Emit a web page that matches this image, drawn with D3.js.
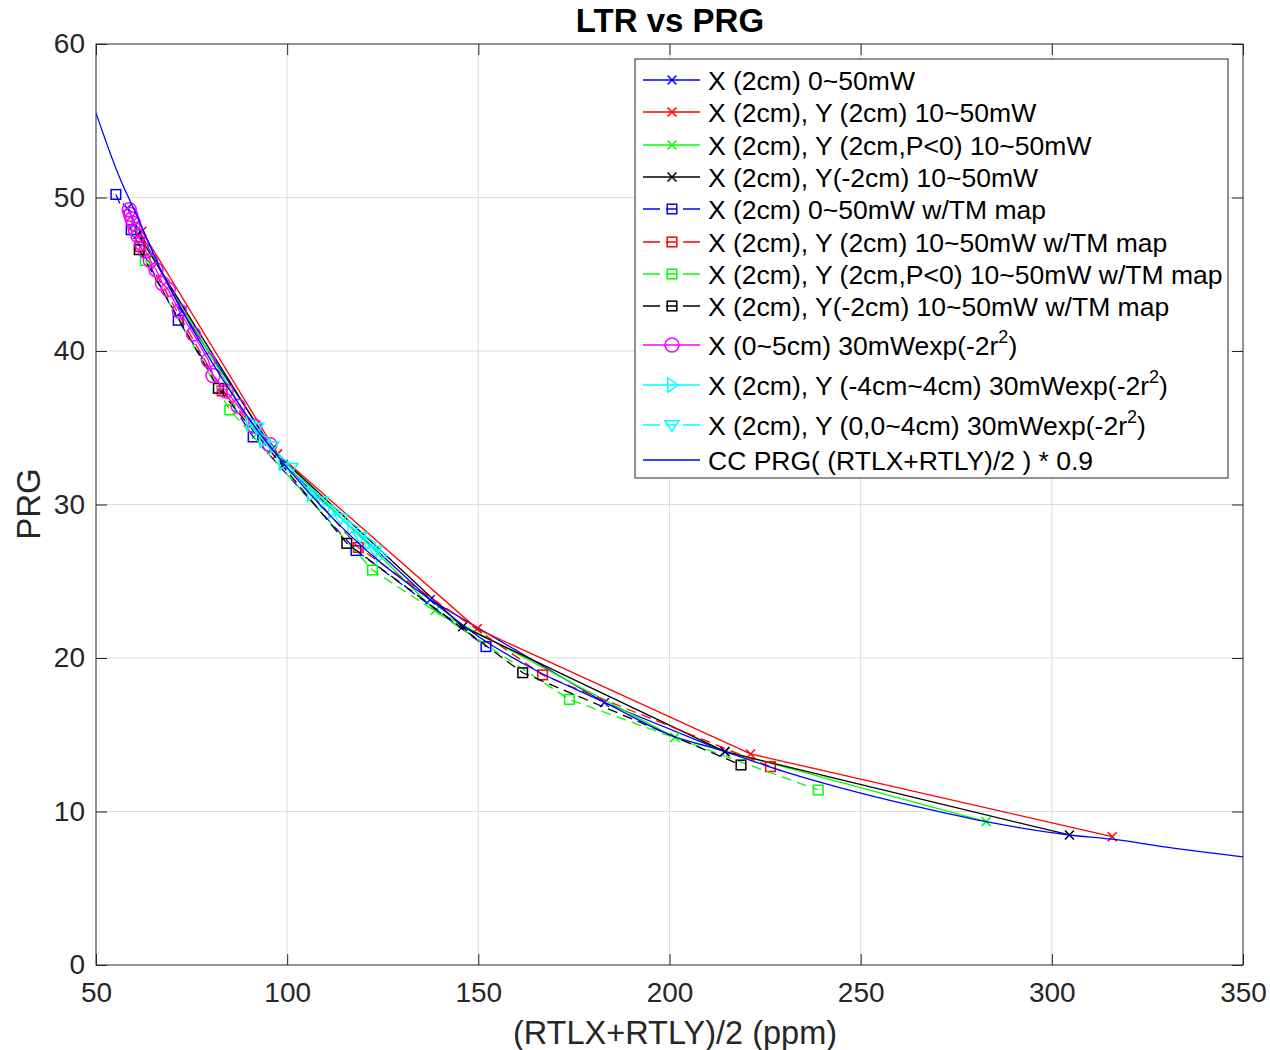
<!DOCTYPE html>
<html>
<head>
<meta charset="utf-8">
<script src="https://cdn.jsdelivr.net/npm/d3@7"></script>
<style>
  body { margin: 0; background: #fff; }
  text { font-family: "Liberation Sans", Arial, Helvetica, sans-serif; }
</style>
</head>
<body>
<svg id="chart" width="1270" height="1050"></svg>
<script>
// values
let xTicks = [50, 100, 150, 200, 250, 300, 350];
let yTicks = [0, 10, 20, 30, 40, 50, 60];

let xBlueX = [58.2, 72.5, 99, 137.4, 183, 214.5];
let yBlueX = [49.3, 42.6, 32.6, 23.8, 17.1, 13.9];
let xRedX = [62, 97.5, 149.7, 221.2, 315.8];
let yRedX = [47.8, 33.3, 21.9, 13.75, 8.36];
let xGreenX = [60, 92, 138.7, 201.4, 282.8];
let yGreenX = [48.2, 34.6, 23.1, 14.83, 9.34];
let xBlackX = [61, 96, 145.9, 214.5, 304.6];
let yBlackX = [47.6, 33.6, 22.04, 13.9, 8.47];

let xBlueSq = [55.2, 59.2, 71.5, 91.1, 118, 152];
let yBlueSq = [50.2, 47.9, 42.0, 34.4, 27.0, 20.74];
let xRedSq = [61.6, 83, 118.6, 166.8, 226.4];
let yRedSq = [46.8, 37.4, 27.2, 18.9, 12.92];
let xGreenSq = [62.9, 85, 122.3, 173.8, 238.9];
let yGreenSq = [45.9, 36.16, 25.73, 17.3, 11.4];
let xBlackSq = [61.3, 82, 115.6, 161.6, 218.7];
let yBlackSq = [46.6, 37.57, 27.47, 19.04, 13.03];

let xMagenta = [58.7, 59.0, 59.4, 59.8, 60.3, 61.0, 61.9, 63.0, 64.2, 65.7, 67.4, 68.9, 71.8, 75.5, 79.4, 80.6, 84.0, 87.2, 91.5, 95.5];
let yMagenta = [49.2, 48.9, 48.6, 48.3, 47.9, 47.5, 47.0, 46.5, 45.9, 45.3, 44.4, 44.0, 42.6, 41.1, 39.4, 38.4, 37.4, 36.4, 35.1, 33.9];
let xCyanR = [90.5, 94, 99, 106.5, 112, 117, 121.5, 124.5];
let yCyanR = [35.3, 34.2, 32.7, 30.7, 29.6, 28.5, 27.5, 26.7];
let xCyanV = [92, 96, 101, 109, 114, 119, 123];
let yCyanV = [35.0, 33.8, 32.4, 30.2, 29.1, 27.9, 27.0];

let xCC = [50, 56.5, 60, 67.4, 70, 80, 90, 100, 110, 125, 137.4, 150, 165, 183, 200, 214.5, 230, 250, 265, 282.8, 304.6, 315.8, 330, 350];
let yCC = [55.5, 51.1, 49.2, 45.06, 43.8, 39.4, 35.6, 32.4, 29.6, 26.1, 23.8, 21.4, 19.2, 17.1, 15.0, 13.9, 12.6, 11.2, 10.3, 9.34, 8.47, 8.2, 7.68, 7.04];

let legendLabels = [
  "X (2cm) 0~50mW",
  "X (2cm), Y (2cm) 10~50mW",
  "X (2cm), Y (2cm,P<0) 10~50mW",
  "X (2cm), Y(-2cm) 10~50mW",
  "X (2cm) 0~50mW w/TM map",
  "X (2cm), Y (2cm) 10~50mW w/TM map",
  "X (2cm), Y (2cm,P<0) 10~50mW w/TM map",
  "X (2cm), Y(-2cm) 10~50mW w/TM map",
  "X (0~5cm) 30mWexp(-2r^2)",
  "X (2cm), Y (-4cm~4cm) 30mWexp(-2r^2)",
  "X (2cm), Y (0,0~4cm) 30mWexp(-2r^2)",
  "CC PRG( (RTLX+RTLY)/2 ) * 0.9"
];

let series = [
  { x: xBlueX, y: yBlueX, color: "#0000ff", marker: "x", dash: null },
  { x: xRedX, y: yRedX, color: "#ff0000", marker: "x", dash: null },
  { x: xGreenX, y: yGreenX, color: "#00ff00", marker: "x", dash: null },
  { x: xBlackX, y: yBlackX, color: "#000000", marker: "x", dash: null },
  { x: xBlueSq, y: yBlueSq, color: "#0000ff", marker: "s", dash: "10,6" },
  { x: xRedSq, y: yRedSq, color: "#ff0000", marker: "s", dash: "10,6" },
  { x: xGreenSq, y: yGreenSq, color: "#00ff00", marker: "s", dash: "10,6" },
  { x: xBlackSq, y: yBlackSq, color: "#000000", marker: "s", dash: "10,6" },
  { x: xMagenta, y: yMagenta, color: "#ff00ff", marker: "o", dash: null },
  { x: xCyanR, y: yCyanR, color: "#00ffff", marker: ">", dash: null },
  { x: xCyanV, y: yCyanV, color: "#00ffff", marker: "v", dash: "10,6" },
  { x: xCC, y: yCC, color: "#0000ff", marker: null, dash: null, smooth: true }
];

let svg = d3.select("#chart");
let plotLeft = 96, plotRight = 1243, plotTop = 44, plotBottom = 965;

let x = d3.scaleLinear().domain([50, 350]).range([plotLeft, plotRight]);
let y = d3.scaleLinear().domain([0, 60]).range([plotBottom, plotTop]);

// grid
svg.append("g").selectAll("line").data(xTicks.slice(1, -1)).enter().append("line")
    .attr("x1", d => x(d)).attr("x2", d => x(d))
    .attr("y1", plotTop).attr("y2", plotBottom)
    .attr("stroke", "#dcdcdc").attr("stroke-width", 1);
svg.append("g").selectAll("line").data(yTicks.slice(1, -1)).enter().append("line")
    .attr("y1", d => y(d)).attr("y2", d => y(d))
    .attr("x1", plotLeft).attr("x2", plotRight)
    .attr("stroke", "#dcdcdc").attr("stroke-width", 1);

// axes, ticks inside like matlab
let tickLen = 11;
let xAxis = d3.axisBottom(x).tickValues(xTicks).tickSize(-tickLen).tickPadding(17);
let yAxis = d3.axisLeft(y).tickValues(yTicks).tickSize(-tickLen).tickPadding(11);
svg.append("g").attr("transform", `translate(0,${plotBottom})`).call(xAxis);
svg.append("g").attr("transform", `translate(${plotLeft},0)`).call(yAxis);
svg.append("g").attr("transform", `translate(0,${plotTop})`)
    .call(d3.axisTop(x).tickValues(xTicks).tickSize(-tickLen).tickFormat(""));
svg.append("g").attr("transform", `translate(${plotRight},0)`)
    .call(d3.axisRight(y).tickValues(yTicks).tickSize(-tickLen).tickFormat(""));
svg.selectAll(".domain").remove();
svg.selectAll(".tick line").attr("stroke", "#262626");
svg.selectAll(".tick text").attr("font-size", 28).attr("fill", "#262626")
    .style("font-family", "'Liberation Sans', Arial, sans-serif");
svg.append("rect").attr("x", plotLeft).attr("y", plotTop)
    .attr("width", plotRight - plotLeft).attr("height", plotBottom - plotTop)
    .attr("fill", "none").attr("stroke", "#262626").attr("stroke-width", 1);

// labels
svg.append("text").attr("x", 670).attr("y", 32).attr("text-anchor", "middle")
    .attr("font-size", 33).attr("font-weight", "bold").text("LTR vs PRG");
svg.append("text").attr("x", 675).attr("y", 1044).attr("text-anchor", "middle")
    .attr("font-size", 32.5).attr("fill", "#262626").text("(RTLX+RTLY)/2 (ppm)");
svg.append("text").attr("transform", "translate(40,504) rotate(-90)").attr("text-anchor", "middle")
    .attr("font-size", 33).attr("fill", "#262626").text("PRG");

// clipping
svg.append("clipPath").attr("id", "plotClip").append("rect")
    .attr("x", plotLeft).attr("y", plotTop).attr("width", plotRight - plotLeft).attr("height", plotBottom - plotTop);

function drawMarker(g, type, cx, cy, color) {
    if (type === "x") {
        let s = 4.5;
        g.append("path").attr("d", `M${cx - s},${cy - s}L${cx + s},${cy + s}M${cx - s},${cy + s}L${cx + s},${cy - s}`)
            .attr("stroke", color).attr("stroke-width", 1.5).attr("fill", "none");
    } else if (type === "s") {
        let s = 4.8;
        g.append("rect").attr("x", cx - s).attr("y", cy - s).attr("width", 2 * s).attr("height", 2 * s)
            .attr("stroke", color).attr("stroke-width", 1.5).attr("fill", "none");
    } else if (type === "o") {
        g.append("circle").attr("cx", cx).attr("cy", cy).attr("r", 7)
            .attr("stroke", color).attr("stroke-width", 1.5).attr("fill", "none");
    } else if (type === ">") {
        let s = 7;
        g.append("path").attr("d", `M${cx - s * 0.6},${cy - s}L${cx + s * 0.9},${cy}L${cx - s * 0.6},${cy + s}Z`)
            .attr("stroke", color).attr("stroke-width", 1.5).attr("fill", "none");
    } else if (type === "v") {
        let s = 7;
        g.append("path").attr("d", `M${cx - s},${cy - s * 0.6}L${cx + s},${cy - s * 0.6}L${cx},${cy + s * 0.9}Z`)
            .attr("stroke", color).attr("stroke-width", 1.5).attr("fill", "none");
    }
}

let plot = svg.append("g").attr("clip-path", "url(#plotClip)");
let line = d3.line().x(d => x(d[0])).y(d => y(d[1]));
let smoothLine = d3.line().x(d => x(d[0])).y(d => y(d[1])).curve(d3.curveMonotoneX);

series.forEach(s => {
    let pts = s.x.map((v, i) => [v, s.y[i]]);
    plot.append("path").attr("d", (s.smooth ? smoothLine : line)(pts))
        .attr("fill", "none").attr("stroke", s.color).attr("stroke-width", 1.3)
        .attr("stroke-dasharray", s.dash);
    if (s.marker) {
        pts.forEach(p => drawMarker(plot, s.marker, x(p[0]), y(p[1]), s.color));
    }
});

// legend
let legend = svg.append("g");
legend.append("rect").attr("x", 635).attr("y", 59).attr("width", 593).attr("height", 419)
    .attr("fill", "#fff").attr("stroke", "#262626").attr("stroke-width", 1);
let legendY = [80, 112, 145, 177, 209, 242, 274, 306, 345, 385, 425, 460];

series.forEach((s, i) => {
    let ly = legendY[i];
    legend.append("line").attr("x1", 643).attr("x2", 700).attr("y1", ly).attr("y2", ly)
        .attr("stroke", s.color).attr("stroke-width", 1.3)
        .attr("stroke-dasharray", s.dash ? "17,6,11,6,17" : null);
    if (s.marker) drawMarker(legend, s.marker, 672, ly, s.color);
    let t = legend.append("text").attr("x", 708).attr("y", ly + 9.5).attr("font-size", 26.5).attr("fill", "#000");
    let parts = legendLabels[i].split("^2");
    if (parts.length > 1) {
        t.append("tspan").text(parts[0]);
        t.append("tspan").attr("dy", -12).attr("font-size", 18).text("2");
        t.append("tspan").attr("dy", 12).text(parts[1]);
    } else {
        t.text(legendLabels[i]);
    }
});
</script>
</body>
</html>
